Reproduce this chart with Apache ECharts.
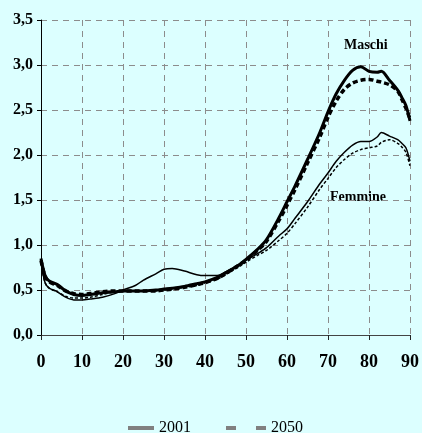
<!DOCTYPE html>
<html><head><meta charset="utf-8">
<script src="https://cdn.jsdelivr.net/npm/echarts@6/dist/echarts.min.js"></script>
<style>html,body{margin:0;padding:0;background:#dcffff;}#c{width:422px;height:433px;}</style>
</head><body><div id="c"></div>
<script>
var ages = [0,1,2,4,6,8,10,12,15,18,20,23,25,28,30,32,35,38,40,43,45,48,50,53,55,58,60,62,65,68,70,72,74,76,78,80,82,83,85,87,88,89,90];
var maschi2001 = [0.85,0.66,0.60,0.56,0.49,0.45,0.44,0.45,0.47,0.48,0.49,0.49,0.49,0.50,0.51,0.52,0.54,0.57,0.59,0.64,0.69,0.77,0.84,0.96,1.06,1.30,1.48,1.66,1.95,2.25,2.48,2.68,2.83,2.94,2.98,2.93,2.92,2.93,2.83,2.72,2.64,2.55,2.38];
var maschi2050 = [0.83,0.65,0.59,0.55,0.49,0.46,0.45,0.46,0.48,0.49,0.49,0.49,0.49,0.49,0.50,0.51,0.53,0.56,0.58,0.63,0.68,0.77,0.83,0.95,1.04,1.27,1.44,1.62,1.91,2.20,2.42,2.60,2.73,2.80,2.83,2.84,2.82,2.81,2.78,2.71,2.62,2.52,2.40];
var femmine2001 = [0.80,0.58,0.52,0.48,0.42,0.39,0.39,0.40,0.42,0.46,0.50,0.55,0.61,0.68,0.73,0.74,0.71,0.67,0.66,0.66,0.70,0.77,0.83,0.91,0.97,1.10,1.18,1.30,1.48,1.68,1.80,1.93,2.03,2.11,2.15,2.15,2.20,2.25,2.21,2.17,2.13,2.08,1.93];
var femmine2050 = [0.80,0.58,0.52,0.48,0.43,0.41,0.41,0.42,0.45,0.48,0.49,0.49,0.49,0.49,0.50,0.51,0.53,0.55,0.58,0.62,0.67,0.75,0.81,0.89,0.94,1.05,1.13,1.24,1.42,1.62,1.74,1.86,1.95,2.02,2.06,2.08,2.10,2.14,2.17,2.13,2.09,2.03,1.88];
var yTickLabels = ['0,0','0,5','1,0','1,5','2,0','2,5','3,0','3,5'];
var xTickLabels = ['0','10','20','30','40','50','60','70','80','90'];
var legendNames = ['2001','2050'];
var curveLabels = ['Maschi','Femmine'];

function pairs(arr){ return ages.map(function(a,i){ return [a, arr[i]]; }); }
var font = '"Liberation Serif", "Times New Roman", serif';
var chart = echarts.init(document.getElementById('c'), null, {renderer:'canvas'});
chart.setOption({
  backgroundColor: '#dcffff',
  animation: false,
  grid: {left: 41, right: 9, top: 20, bottom: 98, containLabel: false},
  xAxis: {
    type: 'value', min: 0, max: 90, interval: 10,
    axisLine: {show: true, onZero: false, lineStyle: {color: '#444', width: 1}},
    axisTick: {show: true, length: 5, lineStyle: {color: '#222'}},
    splitLine: {show: true, lineStyle: {color: '#8c8c8c', type: [6,5], width: 1}},
    axisLabel: {margin: 18, color: '#000', fontFamily: font, fontWeight: 'bold', fontSize: 18,
      formatter: function(v){ return xTickLabels[Math.round(v/10)]; }}
  },
  yAxis: {
    type: 'value', min: 0, max: 3.5, interval: 0.5,
    axisLine: {show: true, lineStyle: {color: '#000', width: 1}},
    axisTick: {show: true, length: 4, lineStyle: {color: '#000'}},
    splitLine: {show: true, lineStyle: {color: '#8c8c8c', type: [6,5], width: 1}},
    axisLabel: {margin: 8, color: '#000', fontFamily: font, fontWeight: 'bold', fontSize: 16,
      formatter: function(v){ return yTickLabels[Math.round(v/0.5)]; }}
  },
  legend: [
    {data: [{name: legendNames[0], icon: 'path://M0,0h26v4h-26z'}], left: 128, top: 420, padding: 0, itemWidth: 26, itemHeight: 4, itemGap: 0,
     itemStyle: {color: '#808080'}, textStyle: {fontFamily: font, fontSize: 16, color: '#000', lineHeight: 16}},
    {data: [{name: legendNames[1], icon: 'path://M0,0h10v4h-10z M30,0h10v4h-10z'}], left: 226, top: 420, padding: 0, itemWidth: 40, itemHeight: 4, itemGap: 0,
     itemStyle: {color: '#808080'}, textStyle: {fontFamily: font, fontSize: 16, color: '#000', lineHeight: 16}}
  ],
  graphic: [
    {type: 'text', left: 344, top: 38, style: {text: curveLabels[0], font: 'bold 14px ' + font, fill: '#000'}},
    {type: 'text', left: 330, top: 190, style: {text: curveLabels[1], font: 'bold 14px ' + font, fill: '#000'}}
  ],
  series: [
    {name: legendNames[0], type: 'line', data: [], symbol: 'none', lineStyle: {color: '#808080', width: 4}, itemStyle: {color: '#808080'}},
    {name: legendNames[1], type: 'line', data: [], symbol: 'none', lineStyle: {color: '#808080', width: 4, type: [10,20]}, itemStyle: {color: '#808080'}},
    {name: 'F2050', type: 'line', data: pairs(femmine2050), symbol: 'none', smooth: 0.3, lineStyle: {color: '#000', width: 1.5, type: [3,2]}},
    {name: 'F2001', type: 'line', data: pairs(femmine2001), symbol: 'none', smooth: 0.3, lineStyle: {color: '#000', width: 1.5}},
    {name: 'M2050', type: 'line', data: pairs(maschi2050), symbol: 'none', smooth: 0.3, lineStyle: {color: '#000', width: 3.5, type: [5,3]}},
    {name: 'M2001', type: 'line', data: pairs(maschi2001), symbol: 'none', smooth: 0.3, lineStyle: {color: '#000', width: 3}}
  ]
});
</script></body></html>
